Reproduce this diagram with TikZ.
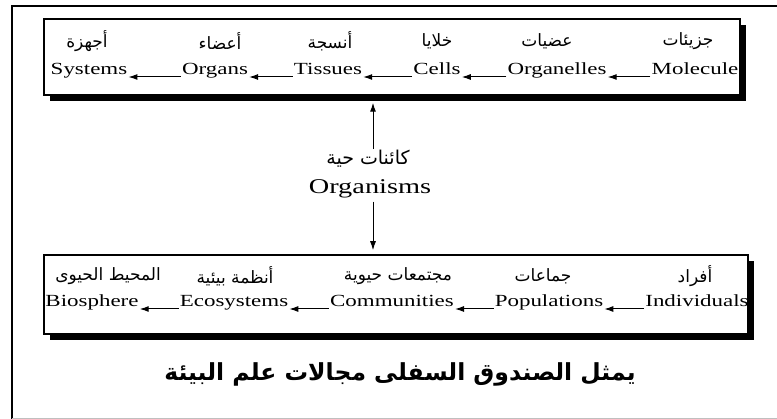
\documentclass[tikz,border=0pt]{standalone}
\usepackage{fontspec}
\usetikzlibrary{arrows.meta,shadows}
\TeXXeTstate=1
\newfontfamily\arabicfont[Script=Arabic]{DejaVu Sans}
\newfontfamily\wideserif[FakeStretch=1.35]{Liberation Serif}

\begin{document}
\begin{tikzpicture}[x=1pt,y=-1pt,
  box/.style={draw, line width=1.5pt, fill=white, inner sep=0pt,
    drop shadow={shadow xshift=6pt, shadow yshift=-6pt, fill=black, opacity=1}},
  en/.style={font=\wideserif\fontsize{17}{17}\selectfont, inner sep=1pt, anchor=base},
  enbig/.style={font=\wideserif\fontsize{21}{21}\selectfont, inner sep=1pt, anchor=base},
  ar/.style={font=\arabicfont\fontsize{17}{17}\selectfont, inner sep=1pt},
  arbig/.style={font=\arabicfont\fontsize{19}{19}\selectfont, inner sep=1pt},
  caption/.style={font=\arabicfont\bfseries\fontsize{23.5}{23.5}\selectfont, inner sep=1pt},
  flow/.style={-{Latex[length=9pt,width=6pt]}, line width=1pt},
]
\useasboundingbox (0,0) rectangle (777,419);
\fill[white] (0,0) rectangle (777,419);

% outer frame (runs off the right and bottom)
\draw[line width=2pt] (12,420) -- (12,6) -- (778,6);
\draw[black!25, line width=1.5pt] (12,418.5) -- (778,418.5);

% upper box: levels of organisation
\node[box, minimum width=696pt, minimum height=76pt] (topbox) at (392,57) {};
% lower box: ecological levels
\node[box, minimum width=704pt, minimum height=79pt] (botbox) at (396,294.5) {};

% upper row, Arabic
\node[ar] (sysA)  at (87,41)  {\beginR أجهزة\endR};
\node[ar] (orgA)  at (220,41) {\beginR أعضاء\endR};
\node[ar] (tisA)  at (330,41) {\beginR أنسجة\endR};
\node[ar] (celA)  at (437,41) {\beginR خلايا\endR};
\node[ar] (orglA) at (547,41) {\beginR عضيات\endR};
\node[ar] (molA)  at (688,41) {\beginR جزيئات\endR};

% upper row, English
\node[en] (sys)  at (89,75)  {Systems};
\node[en] (org)  at (215,75) {Organs};
\node[en] (tis)  at (328,75) {Tissues};
\node[en] (cel)  at (437,75) {Cells};
\node[en] (orgl) at (557,75) {Organelles};
\node[en] (mol)  at (695,75) {Molecule};

\draw[flow] ([yshift=-2pt]org.base west)  -- ([yshift=-2pt]sys.base east);
\draw[flow] ([yshift=-2pt]tis.base west)  -- ([yshift=-2pt]org.base east);
\draw[flow] ([yshift=-2pt]cel.base west)  -- ([yshift=-2pt]tis.base east);
\draw[flow] ([yshift=-2pt]orgl.base west) -- ([yshift=-2pt]cel.base east);
\draw[flow] ([yshift=-2pt]mol.base west)  -- ([yshift=-2pt]orgl.base east);

% middle: organisms
\node[arbig] (orgsA) at (368,159) {\beginR كائنات حية\endR};
\node[enbig] (orgs) at (370,194) {Organisms};

\path (orgsA.north -| 373,0) coordinate (upstart);
\path (upstart |- topbox.south) ++(0,7) coordinate (uptip);
\path (orgs.south -| 373,0) ++(0,2) coordinate (downstart);
\path (downstart |- botbox.north) ++(0,-4) coordinate (downtip);
\draw[flow] (upstart) -- (uptip);
\draw[flow] (downstart) -- (downtip);

% lower row, Arabic
\node[ar] (bioA) at (108,276) {\beginR المحيط الحيوى\endR};
\node[ar] (ecoA) at (235,276) {\beginR أنظمة بيئية\endR};
\node[ar] (comA) at (398,276) {\beginR مجتمعات حيوية\endR};
\node[ar] (popA) at (543,276) {\beginR جماعات\endR};
\node[ar] (indA) at (695,276) {\beginR أفراد\endR};

% lower row, English
\node[en] (bio) at (92,307)  {Biosphere};
\node[en] (eco) at (234,307) {Ecosystems};
\node[en] (com) at (392,307) {Communities};
\node[en] (pop) at (549,307) {Populations};
\node[en] (ind) at (697,307) {Individuals};

\draw[flow] ([yshift=-2pt]eco.base west) -- ([yshift=-2pt]bio.base east);
\draw[flow] ([yshift=-2pt]com.base west) -- ([yshift=-2pt]eco.base east);
\draw[flow] ([yshift=-2pt]pop.base west) -- ([yshift=-2pt]com.base east);
\draw[flow] ([yshift=-2pt]ind.base west) -- ([yshift=-2pt]pop.base east);

% caption
\node[caption] (cap) at (400,374) {\beginR يمثل الصندوق السفلى مجالات علم البيئة\endR};
\end{tikzpicture}
\end{document}
